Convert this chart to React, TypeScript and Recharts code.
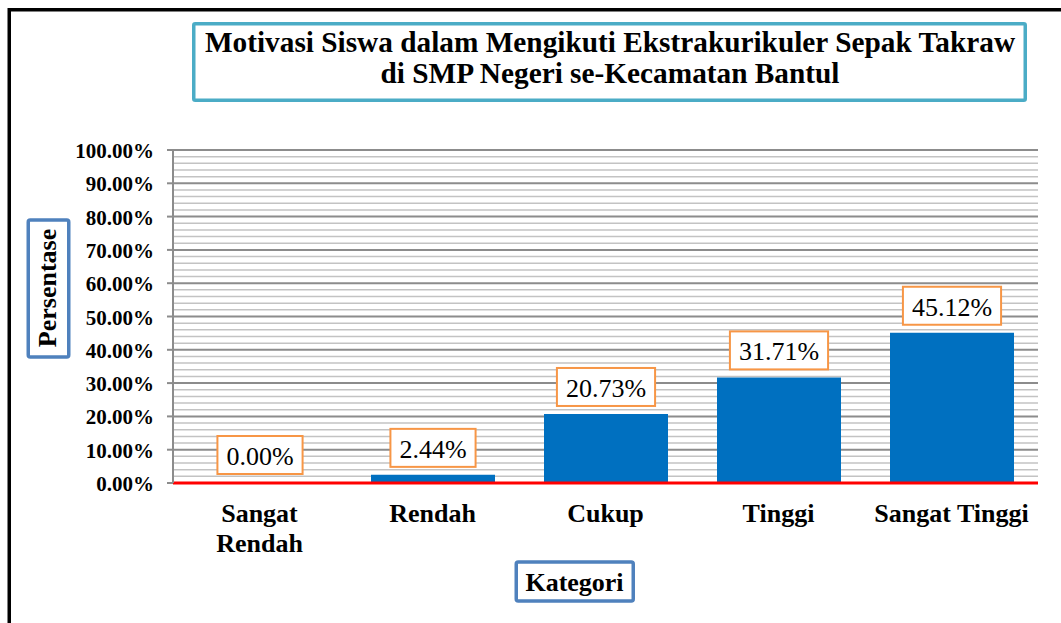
import { BarChart, Bar, XAxis, YAxis, CartesianGrid, LabelList } from 'recharts'

const categories = ['Sangat Rendah', 'Rendah', 'Cukup', 'Tinggi', 'Sangat Tinggi']
const categoryLines = [['Sangat', 'Rendah'], ['Rendah'], ['Cukup'], ['Tinggi'], ['Sangat Tinggi']]
const percentages = [0.0, 2.44, 20.73, 31.71, 45.12]
const majorStep = 10
const minorTicks = [0, 2, 4, 6, 8, 10, 12, 14, 16, 18, 20, 22, 24, 26, 28, 30, 32, 34, 36, 38, 40, 42, 44, 46, 48, 50, 52, 54, 56, 58, 60, 62, 64, 66, 68, 70, 72, 74, 76, 78, 80, 82, 84, 86, 88, 90, 92, 94, 96, 98, 100]
const title = ['Motivasi Siswa dalam Mengikuti Ekstrakurikuler Sepak Takraw', 'di SMP Negeri se-Kecamatan Bantul']

const data = categories.map((name, i) => ({ name, value: percentages[i] }))

const FONT = '"Liberation Serif", "Times New Roman", serif'

function fmt(v: number) {
  return v.toFixed(2) + '%'
}

function textWidth(s: string, size: number) {
  let w = 0
  for (const ch of s) {
    if (ch === '.') w += 0.25
    else if (ch === '%') w += 0.833
    else w += 0.5
  }
  return w * size
}

// minor lines every 2%, darker line on the 10% steps
function GridLine(props: any) {
  const { x1, y1, x2, y2, index } = props
  const major = typeof index === 'number' && index % 5 === 0
  return (
    <line
      x1={x1}
      y1={y1}
      x2={x2}
      y2={y2}
      stroke={major ? '#8c8c8c' : '#c3c3c3'}
      strokeWidth={major ? 2 : 1.5}
    />
  )
}

// only the 10% steps get a label and a tick mark
function PercentTick(props: any) {
  const { x, y, payload } = props
  if (payload.value % majorStep !== 0) return null
  return (
    <g>
      <line x1={x + 13} y1={y} x2={x + 19} y2={y} stroke="#8c8c8c" strokeWidth={2} />
      <text x={x} y={y} dy={8} textAnchor="end" fontFamily={FONT} fontSize={21} fontWeight="bold" fill="#000">
        {fmt(payload.value)}
      </text>
    </g>
  )
}

function CategoryTick(props: any) {
  const { x, y, payload } = props
  const lines = categoryLines[payload.index] ?? [payload.value]
  return (
    <text x={x} y={y} textAnchor="middle" fontFamily={FONT} fontSize={26} fontWeight="bold" fill="#000">
      {lines.map((l: string, i: number) => (
        <tspan key={i} x={x} dy={i === 0 ? 31 : 30}>
          {l}
        </tspan>
      ))}
    </text>
  )
}

function ValueLabel(props: any) {
  const { x, y, width, value } = props
  const label = fmt(Number(value))
  const w = textWidth(label, 26) + 18
  const h = 38
  const cx = x + width / 2
  const bottom = y - 8
  return (
    <g>
      <rect x={cx - w / 2} y={bottom - h} width={w} height={h} fill="#fff" stroke="#f79646" strokeWidth={2} />
      <text x={cx} y={bottom - 9} textAnchor="middle" fontFamily={FONT} fontSize={26} fill="#000">
        {label}
      </text>
    </g>
  )
}

export default function App() {
  return (
    <div style={{ position: 'absolute', left: 0, top: 0, width: 1061, height: 623, background: '#fff', fontFamily: FONT }}>
      <BarChart width={1061} height={623} data={data} margin={{ top: 150, right: 23, bottom: 110, left: 0 }}>
        <CartesianGrid vertical={false} horizontal={<GridLine />} />
        <XAxis
          dataKey="name"
          height={30}
          axisLine={{ stroke: '#ff0000', strokeWidth: 3 }}
          tickLine={false}
          tick={<CategoryTick />}
          interval={0}
        />
        <YAxis
          width={173}
          domain={[0, 100]}
          ticks={minorTicks}
          interval={0}
          axisLine={{ stroke: '#8c8c8c', strokeWidth: 2 }}
          tickLine={false}
          tickSize={6}
          tickMargin={13}
          tick={<PercentTick />}
        />
        <Bar dataKey="value" fill="#0070c0" barSize={124} minPointSize={1} isAnimationActive={false}>
          <LabelList dataKey="value" content={<ValueLabel />} />
        </Bar>
      </BarChart>
      <svg width={1061} height={623} style={{ position: 'absolute', left: 0, top: 0, pointerEvents: 'none' }}>
        <path d="M9.25 623 L9.25 9.75 L1061 9.75" fill="none" stroke="#000" strokeWidth={3.5} />
        <rect x={193.75} y={23.75} width={831.5} height={76.5} fill="#fff" stroke="#4bacc6" strokeWidth={3.5} rx={1.5} />
        <text textAnchor="middle" fontFamily={FONT} fontSize={29.3} fontWeight="bold" fill="#000">
          <tspan x={610} y={52}>{title[0]}</tspan>
          <tspan x={610} y={83}>{title[1]}</tspan>
        </text>
        <rect x={28.25} y={220} width={40.5} height={137} fill="#fff" stroke="#4f81bd" strokeWidth={3.5} rx={2} />
        <text
          x={56}
          y={288}
          transform="rotate(-90 56 288)"
          textAnchor="middle"
          fontFamily={FONT}
          fontSize={26}
          fontWeight="bold"
          fill="#000"
        >
          Persentase
        </text>
        <rect x={516.25} y={562} width={117} height={39} fill="#fff" stroke="#4f81bd" strokeWidth={3.5} rx={2} />
        <text x={574.5} y={591} textAnchor="middle" fontFamily={FONT} fontSize={26} fontWeight="bold" fill="#000">
          Kategori
        </text>
      </svg>
    </div>
  )
}
